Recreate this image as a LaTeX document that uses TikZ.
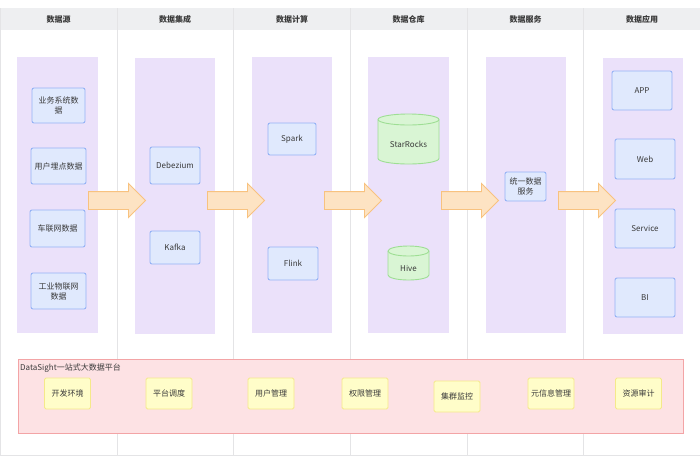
\documentclass[tikz,border=0pt]{standalone}
\usepackage{fontspec}
\setmainfont{Noto Sans CJK SC}
\usetikzlibrary{shapes.arrows}
\definecolor{hdr}{HTML}{EEEFF1}
\definecolor{gridc}{HTML}{E4E4E6}
\definecolor{lanec}{HTML}{EBE1FA}
\definecolor{bluef}{HTML}{E0E9FD}
\definecolor{blued}{HTML}{94B2F5}
\definecolor{greenf}{HTML}{D9F5D4}
\definecolor{greend}{HTML}{9EDE94}
\definecolor{arrf}{HTML}{FDE3C3}
\definecolor{arrd}{HTML}{F8C27F}
\definecolor{redf}{HTML}{FDE2E4}
\definecolor{redd}{HTML}{F3A4A6}
\definecolor{yelf}{HTML}{FFFDC9}
\definecolor{yeld}{HTML}{F5E98A}
\definecolor{txt}{HTML}{3A3A3A}
\tikzset{
  hdrtext/.style={font=\fontsize{8}{9.5}\selectfont\bfseries, text=txt},
  lane/.style={fill=lanec, draw=none, inner sep=0pt},
  bluebox/.style={fill=bluef, draw=blued, line width=0.9pt, rounded corners=2pt, inner sep=0pt, align=center, text=txt},
  yelbox/.style={fill=yelf, draw=yeld, line width=0.9pt, rounded corners=1.5pt, inner sep=0pt, minimum width=46pt, minimum height=31pt, align=center, text=txt},
  bigarrow/.style={single arrow, fill=arrf, draw=arrd, line width=0.9pt, inner xsep=0pt, inner ysep=8.5pt, minimum height=57pt, single arrow head extend=8pt, single arrow tip angle=90, anchor=tail},
  cyl/.style={fill=greenf, draw=greend, line width=0.9pt},
  dblabel/.style={text=txt, inner sep=0pt}
}
\begin{document}
\begin{tikzpicture}[x=1pt,y=-1pt, font=\fontsize{8}{10}\selectfont]
\useasboundingbox (0,0) rectangle (700,464);
\fill[white] (0,0) rectangle (700,464);
% header and grid
\fill[hdr] (0,8) rectangle (700,30);
\draw[gridc, line width=0.8pt] (0.5,8) -- (0.5,455.5) -- (700,455.5);
\foreach \x in {117,233.5,350,467,583.5} \draw[gridc, line width=0.8pt] (\x,8) -- (\x,455.5);
\node[hdrtext] (h1) at (58.5,19) {数据源};
\node[hdrtext] (h2) at (175,19) {数据集成};
\node[hdrtext] (h3) at (292,19) {数据计算};
\node[hdrtext] (h4) at (408.5,19) {数据仓库};
\node[hdrtext] (h5) at (525.5,19) {数据服务};
\node[hdrtext] (h6) at (642,19) {数据应用};
% lanes
\node[lane, minimum width=81pt, minimum height=276pt] (L1) at (57.5,195) {};
\node[lane, minimum width=80pt, minimum height=276pt] (L2) at (175,195.5) {};
\node[lane, minimum width=80pt, minimum height=276pt] (L3) at (292,195) {};
\node[lane, minimum width=81pt, minimum height=276pt] (L4) at (408.5,195) {};
\node[lane, minimum width=80pt, minimum height=276pt] (L5) at (526,195) {};
\node[lane, minimum width=80pt, minimum height=276pt] (L6) at (643,195.5) {};
% source boxes
\node[bluebox, minimum width=53pt, minimum height=35pt] (b1) at (58.5,105.5) {业务系统数\\据};
\node[bluebox, minimum width=55pt, minimum height=36pt] (b2) at (58.5,166) {用户埋点数据};
\node[bluebox, minimum width=55pt, minimum height=37pt] (b3) at (57.5,228.5) {车联网数据};
\node[bluebox, minimum width=55pt, minimum height=36pt] (b4) at (58.5,291) {工业物联网\\数据};
\node[bluebox, minimum width=50pt, minimum height=37pt] (b5) at (175,165.5) {Debezium};
\node[bluebox, minimum width=50pt, minimum height=33pt] (b6) at (175,247.5) {Kafka};
\node[bluebox, minimum width=48pt, minimum height=32pt] (b7) at (292,139) {Spark};
\node[bluebox, minimum width=50pt, minimum height=33pt] (b8) at (293,263.5) {Flink};
\node[bluebox, minimum width=41pt, minimum height=29pt] (b9) at (525.5,186.5) {统一数据\\服务};
\node[bluebox, minimum width=60pt, minimum height=39pt] (b10) at (642,90.5) {APP};
\node[bluebox, minimum width=60pt, minimum height=40pt] (b11) at (645,159) {Web};
\node[bluebox, minimum width=60pt, minimum height=39pt] (b12) at (645,228.5) {Service};
\node[bluebox, minimum width=60pt, minimum height=39pt] (b13) at (645,297.5) {BI};
% cylinders
\path[cyl] (378,119.5) -- (378,158.5) arc[start angle=180, end angle=0, x radius=30.5, y radius=5.5] -- (439,119.5) arc[start angle=0, end angle=-180, x radius=30.5, y radius=5.5] -- cycle;
\draw[greend, line width=0.9pt] (378,119.5) arc[start angle=180, end angle=0, x radius=30.5, y radius=5.5];
\node[dblabel] (sr) at (408.5,144) {StarRocks};
\path[cyl] (388,251) -- (388,275) arc[start angle=180, end angle=0, x radius=20.5, y radius=5] -- (429,251) arc[start angle=0, end angle=-180, x radius=20.5, y radius=5] -- cycle;
\draw[greend, line width=0.9pt] (388,251) arc[start angle=180, end angle=0, x radius=20.5, y radius=5];
\node[dblabel] (hv) at (408.5,268) {Hive};
% flow arrows
\node[bigarrow] (a1) at (88,200.5) {};
\node[bigarrow] (a2) at (207,200.5) {};
\node[bigarrow] (a3) at (324,200.5) {};
\node[bigarrow] (a4) at (441,200.5) {};
\node[bigarrow] (a5) at (558,200.5) {};
% platform
\node[fill=redf, draw=redd, line width=0.9pt, minimum width=665pt, minimum height=74pt, inner sep=0pt] (plat) at (350.5,396) {};
\node[anchor=west, inner sep=0pt, text=txt] (pt) at (20,368) {DataSight一站式大数据平台};
\node[yelbox] (y1) at (67.5,393.5) {开发环境};
\node[yelbox] (y2) at (169,393.5) {平台调度};
\node[yelbox] (y3) at (271,393.5) {用户管理};
\node[yelbox] (y4) at (365,393.5) {权限管理};
\node[yelbox] (y5) at (457,396.5) {集群监控};
\node[yelbox] (y6) at (551,393.5) {元信息管理};
\node[yelbox] (y7) at (638.5,393.5) {资源审计};
\end{tikzpicture}
\end{document}
